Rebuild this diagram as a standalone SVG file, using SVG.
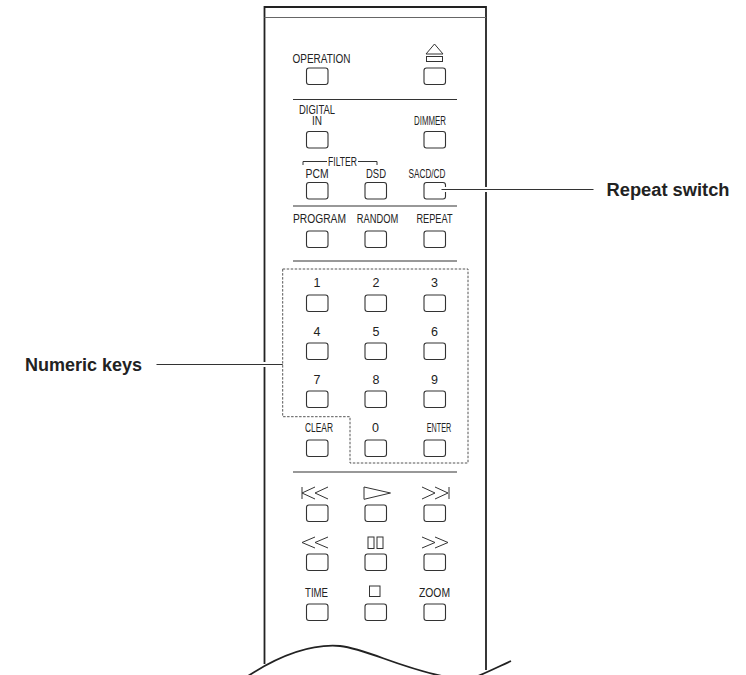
<svg xmlns="http://www.w3.org/2000/svg" width="746" height="675" viewBox="0 0 746 675">
<style>
.body{fill:none;stroke:#222;stroke-width:1.8}
.sep{stroke:#333;stroke-width:1.1}
.btn{fill:#fff;stroke:#333;stroke-width:1.1}
.lbl{font-family:"Liberation Sans",Arial,sans-serif;font-size:12.5px;fill:#222;text-anchor:middle}
.sym{fill:none;stroke:#333;stroke-width:1}
.call{font-family:"Liberation Sans",Arial,sans-serif;font-size:18px;font-weight:bold;fill:#222}
.lead{stroke:#333;stroke-width:1.1}
.halo{stroke:#fff;stroke-width:5}
.dash{fill:none;stroke:#555;stroke-width:1;stroke-dasharray:2.5 1.5}
</style>
<rect width="746" height="675" fill="#fff"/>
<g id="remote-body">
<path class="body" d="M264.5,664 V7 H486 V670"/>
<line x1="264.5" y1="17.5" x2="486" y2="17.5" stroke="#666" stroke-width="1"/>
<path class="body" d="M248,676 C285,652 315,644 340,646 C367,649 395,666 442,676"/>
<path class="body" d="M478,676 C490,671 500,666 511,661"/>
<line class="sep" x1="293" y1="99.5" x2="457" y2="99.5"/>
<line class="sep" x1="293" y1="206" x2="457" y2="206"/>
<line class="sep" x1="293" y1="261" x2="457" y2="261"/>
<line class="sep" x1="293" y1="472" x2="457" y2="472"/>
</g>
<g id="numeric-area">
<path class="dash" d="M282.7,269 H468 V463 H350 V416.7 H282.7 Z"/>
</g>
<g id="btn-operation"><text class="lbl" x="321.5" y="62.5" textLength="58" lengthAdjust="spacingAndGlyphs">OPERATION</text><rect class="btn" x="306.5" y="68" width="21.5" height="16.5" rx="2.5"/></g>
<g id="btn-eject"><path class="sym" d="M426,54 L434.5,44 L443,54 Z"/><rect class="sym" x="426.5" y="56.5" width="16" height="5"/><rect class="btn" x="424" y="68" width="21.5" height="16.5" rx="2.5"/></g>
<g id="btn-digital-in"><text class="lbl" x="317" y="114" textLength="36" lengthAdjust="spacingAndGlyphs">DIGITAL</text><text class="lbl" x="317" y="124.5" textLength="10" lengthAdjust="spacingAndGlyphs">IN</text><rect class="btn" x="306.5" y="131.5" width="21.5" height="16.5" rx="2.5"/></g>
<g id="btn-dimmer"><text class="lbl" x="430" y="124.5" textLength="32" lengthAdjust="spacingAndGlyphs">DIMMER</text><rect class="btn" x="424" y="131.5" width="21.5" height="16.5" rx="2.5"/></g>
<g id="filter-label"><path class="sym" d="M303,165 V161.5 H327 M358,161.5 H377 V165"/><text class="lbl" x="342.5" y="166" textLength="29" lengthAdjust="spacingAndGlyphs">FILTER</text></g>
<g id="btn-pcm"><text class="lbl" x="317" y="177.5" textLength="23" lengthAdjust="spacingAndGlyphs">PCM</text><rect class="btn" x="306.5" y="182.5" width="21.5" height="16.5" rx="2.5"/></g>
<g id="btn-dsd"><text class="lbl" x="376" y="177.5" textLength="20" lengthAdjust="spacingAndGlyphs">DSD</text><rect class="btn" x="365" y="182.5" width="21.5" height="16.5" rx="2.5"/></g>
<g id="btn-sacd-cd"><text class="lbl" x="427" y="177.5" textLength="37" lengthAdjust="spacingAndGlyphs">SACD/CD</text><rect class="btn" x="424" y="182.5" width="21.5" height="16.5" rx="2.5"/></g>
<g id="btn-program"><text class="lbl" x="319.5" y="222.5" textLength="53" lengthAdjust="spacingAndGlyphs">PROGRAM</text><rect class="btn" x="306.5" y="231" width="21.5" height="16.5" rx="2.5"/></g>
<g id="btn-random"><text class="lbl" x="377.5" y="222.5" textLength="41.5" lengthAdjust="spacingAndGlyphs">RANDOM</text><rect class="btn" x="365" y="231" width="21.5" height="16.5" rx="2.5"/></g>
<g id="btn-repeat"><text class="lbl" x="434.5" y="222.5" textLength="36" lengthAdjust="spacingAndGlyphs">REPEAT</text><rect class="btn" x="424" y="231" width="21.5" height="16.5" rx="2.5"/></g>
<g id="btn-1"><text class="lbl" x="317" y="287">1</text><rect class="btn" x="306.5" y="295" width="21.5" height="16.5" rx="2.5"/></g>
<g id="btn-2"><text class="lbl" x="376" y="287">2</text><rect class="btn" x="365" y="295" width="21.5" height="16.5" rx="2.5"/></g>
<g id="btn-3"><text class="lbl" x="434.5" y="287">3</text><rect class="btn" x="424" y="295" width="21.5" height="16.5" rx="2.5"/></g>
<g id="btn-4"><text class="lbl" x="317" y="335.5">4</text><rect class="btn" x="306.5" y="343" width="21.5" height="16.5" rx="2.5"/></g>
<g id="btn-5"><text class="lbl" x="376" y="335.5">5</text><rect class="btn" x="365" y="343" width="21.5" height="16.5" rx="2.5"/></g>
<g id="btn-6"><text class="lbl" x="434.5" y="335.5">6</text><rect class="btn" x="424" y="343" width="21.5" height="16.5" rx="2.5"/></g>
<g id="btn-7"><text class="lbl" x="317" y="384">7</text><rect class="btn" x="306.5" y="391" width="21.5" height="16.5" rx="2.5"/></g>
<g id="btn-8"><text class="lbl" x="376" y="384">8</text><rect class="btn" x="365" y="391" width="21.5" height="16.5" rx="2.5"/></g>
<g id="btn-9"><text class="lbl" x="434.5" y="384">9</text><rect class="btn" x="424" y="391" width="21.5" height="16.5" rx="2.5"/></g>
<g id="btn-clear"><text class="lbl" x="319" y="432" textLength="28" lengthAdjust="spacingAndGlyphs">CLEAR</text><rect class="btn" x="306.5" y="440" width="21.5" height="16.5" rx="2.5"/></g>
<g id="btn-0"><text class="lbl" x="375.5" y="432">0</text><rect class="btn" x="365" y="440" width="21.5" height="16.5" rx="2.5"/></g>
<g id="btn-enter"><text class="lbl" x="439" y="432" textLength="24.5" lengthAdjust="spacingAndGlyphs">ENTER</text><rect class="btn" x="424" y="440" width="21.5" height="16.5" rx="2.5"/></g>
<g id="btn-prev"><path class="sym" d="M302,487 V499 M315,487 L302,493 L315,499 M328,487 L315,493 L328,499"/><rect class="btn" x="306.5" y="505" width="21.5" height="16.5" rx="2.5"/></g>
<g id="btn-play"><path class="sym" d="M364,487 L390.5,493 L364,499.3 Z"/><rect class="btn" x="365" y="505" width="21.5" height="16.5" rx="2.5"/></g>
<g id="btn-next"><path class="sym" d="M422,487 L435,493 L422,499 M435,487 L448,493 L435,499 M449,487 V499"/><rect class="btn" x="424" y="505" width="21.5" height="16.5" rx="2.5"/></g>
<g id="btn-rewind"><path class="sym" d="M315,537 L302,542.5 L315,548 M328,537 L315,542.5 L328,548"/><rect class="btn" x="306.5" y="554" width="21.5" height="16.5" rx="2.5"/></g>
<g id="btn-pause"><rect class="sym" x="368" y="537" width="6" height="11.5"/><rect class="sym" x="377" y="537" width="6" height="11.5"/><rect class="btn" x="365" y="554" width="21.5" height="16.5" rx="2.5"/></g>
<g id="btn-forward"><path class="sym" d="M422,537 L435,542.5 L422,548 M435,537 L448,542.5 L435,548"/><rect class="btn" x="424" y="554" width="21.5" height="16.5" rx="2.5"/></g>
<g id="btn-time"><text class="lbl" x="316.5" y="597" textLength="23" lengthAdjust="spacingAndGlyphs">TIME</text><rect class="btn" x="306.5" y="604" width="21.5" height="16.5" rx="2.5"/></g>
<g id="btn-stop"><rect class="sym" x="369.5" y="586" width="10.5" height="10.5"/><rect class="btn" x="365" y="604" width="21.5" height="16.5" rx="2.5"/></g>
<g id="btn-zoom"><text class="lbl" x="434.5" y="597" textLength="31" lengthAdjust="spacingAndGlyphs">ZOOM</text><rect class="btn" x="424" y="604" width="21.5" height="16.5" rx="2.5"/></g>
<g id="connectors">
<line class="halo" x1="443" y1="189.5" x2="593" y2="189.5"/>
<line class="lead" x1="441.5" y1="189.5" x2="593.5" y2="189.5"/>
<line class="halo" x1="157" y1="364.5" x2="280" y2="364.5"/>
<line class="lead" x1="156.5" y1="364.5" x2="282.7" y2="364.5"/>
</g>
<g id="callout-repeat"><text class="call" x="606.5" y="196" textLength="123" lengthAdjust="spacingAndGlyphs">Repeat switch</text></g>
<g id="callout-numeric"><text class="call" x="142" y="371" text-anchor="end">Numeric keys</text></g>
</svg>
